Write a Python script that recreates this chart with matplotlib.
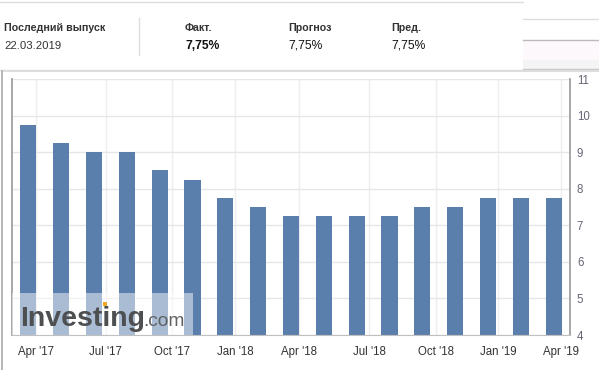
import numpy as np
import matplotlib
matplotlib.use('Agg')
import matplotlib.pyplot as plt
from matplotlib.patches import Rectangle
from matplotlib.lines import Line2D

plt.rcParams['font.family'] = ['Liberation Sans', 'DejaVu Sans']

# release dates and key rate values
release_dates = np.array(['2017-03-24', '2017-04-28', '2017-06-16', '2017-07-28', '2017-09-15',
                          '2017-10-27', '2017-12-15', '2018-02-09', '2018-03-23', '2018-04-27',
                          '2018-06-15', '2018-07-27', '2018-09-14', '2018-10-26', '2018-12-14',
                          '2019-02-08', '2019-03-22'], dtype='datetime64[D]')
rates = [9.75, 9.25, 9.0, 9.0, 8.5, 8.25, 7.75, 7.5, 7.25, 7.25,
         7.25, 7.25, 7.5, 7.5, 7.75, 7.75, 7.75]

tick_dates = np.array(['2017-04-01', '2017-07-01', '2017-10-01', '2018-01-01', '2018-04-01',
                       '2018-07-01', '2018-10-01', '2019-01-01', '2019-04-01'], dtype='datetime64[D]')
tick_labels = ["Apr '17", "Jul '17", "Oct '17", "Jan '18", "Apr '18",
               "Jul '18", "Oct '18", "Jan '19", "Apr '19"]

header_titles = ['Факт.', 'Прогноз', 'Пред.']
header_values = ['7,75%', '7,75%', '7,75%']
last_release = '22.03.2019'

W, H = 599, 370
fig = plt.figure(figsize=(W / 100, H / 100), dpi=100)

def fx(x):
    return x / W

def fy(y):
    return 1 - y / H

# ordinal axis: map dates onto bar index positions
idx = np.arange(len(rates))
d = release_dates.astype(float)
t = tick_dates.astype(float)
tick_pos = np.interp(t, d, idx)
last_step = d[-1] - d[-2]
tick_pos[t > d[-1]] = idx[-1] + (t[t > d[-1]] - d[-1]) / last_step

ax = fig.add_axes([fx(12), fy(335), fx(570) - fx(12), fy(79) - fy(335)])
ax.bar(idx, rates, width=0.49, color='#5b7fac', zorder=2)
ax.set_xlim(-0.5, 16.5)
ax.set_ylim(4, 11)
ax.set_yticks(range(4, 12))
ax.yaxis.tick_right()
ax.set_xticks(tick_pos)
ax.set_xticklabels(tick_labels)
ax.tick_params(axis='x', length=0, pad=8, labelsize=8.3, labelcolor='#333333')
ax.tick_params(axis='y', length=0, pad=5, labelsize=8.3, labelcolor='#666677')
ax.grid(axis='y', color='#e6e6e6', lw=1, zorder=0)
ax.grid(axis='x', color='#eeeeee', lw=1, zorder=0)
ax.spines['top'].set_visible(False)
for s in ['left', 'right']:
    ax.spines[s].set_color('#a0a0a0')
    ax.spines[s].set_linewidth(1.3)
ax.spines['bottom'].set_color('#c0c0c0')

# watermark
ax.add_patch(Rectangle((0, 0), 181 / 558, 42 / 256, transform=ax.transAxes,
                       facecolor='white', alpha=0.48, edgecolor='none', zorder=3))
ax.text(8 / 558, 9 / 256, 'Investing', transform=ax.transAxes, fontsize=20.5,
        fontweight='bold', color='#4d4f51', zorder=4)
ax.text(131 / 558, 9 / 256, '.com', transform=ax.transAxes, fontsize=13.8,
        color='#5f6163', zorder=4)
ax.add_patch(Rectangle((91 / 558, 29 / 256), 4 / 558, 4 / 256, transform=ax.transAxes,
                       facecolor='#f5a623', edgecolor='none', zorder=5))

# header
fig.add_artist(Line2D([fx(0), fx(523)], [fy(2), fy(2)], color='#dddddd', lw=1))
fig.add_artist(Line2D([fx(523), fx(599)], [fy(19), fy(19)], color='#dddddd', lw=1))
fig.add_artist(Line2D([fx(523), fx(599)], [fy(40), fy(40)], color='#bbbbbb', lw=1))
fig.add_artist(Rectangle((fx(523), fy(60)), fx(76), 20 / H, transform=fig.transFigure,
                         facecolor='#fdf8fb', edgecolor='none'))
fig.add_artist(Rectangle((fx(523), fy(69)), fx(76), 9 / H, transform=fig.transFigure,
                         facecolor='#f4f4f4', edgecolor='none'))
fig.add_artist(Line2D([fx(523), fx(599)], [fy(69), fy(69)], color='#c8c8c8', lw=1))
fig.add_artist(Line2D([fx(0), fx(523)], [fy(70), fy(70)], color='#dddddd', lw=1))
fig.add_artist(Line2D([fx(4), fx(599)], [fy(71), fy(71)], color='#dddddd', lw=1.5))
fig.add_artist(Line2D([fx(2), fx(2)], [fy(71), fy(370)], color='#b0b0b0', lw=1.3))
fig.add_artist(Line2D([fx(139), fx(139)], [fy(18), fy(55)], color='#dddddd', lw=1))

fig.text(fx(4), fy(31), 'Последний выпуск', fontsize=7.7, fontweight='bold',
         color='#333333', va='baseline')
fig.text(fx(4), fy(49), last_release, fontsize=8.2, color='#333333', va='baseline')
for i, (title, val) in enumerate(zip(header_titles, header_values)):
    x = fx(185 + 103 * i)
    fig.text(x, fy(31), title, fontsize=7.7, fontweight='bold', color='#333333', va='baseline')
    fig.text(x, fy(49), val, fontsize=8.7, color='#111111', va='baseline',
             fontweight='bold' if i == 0 else 'normal')

plt.savefig('out.png', dpi=100)
